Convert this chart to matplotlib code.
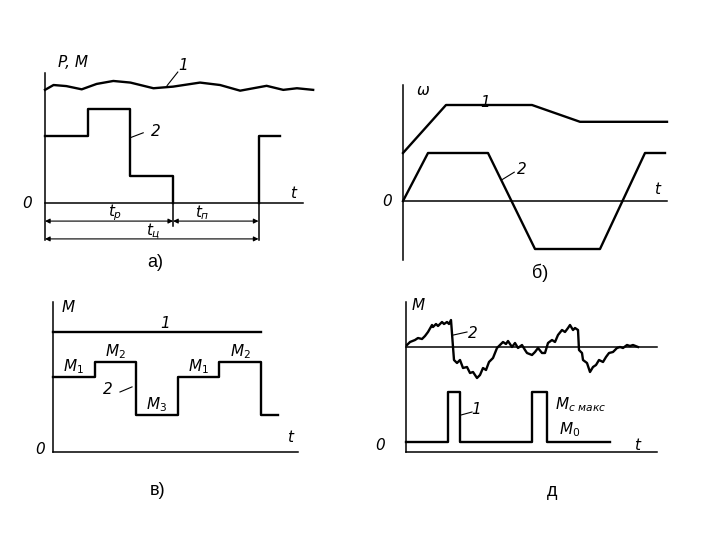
import matplotlib.pyplot as plt

# ---- panel a): P, M over one cycle
a_wave_t = [0, 0.2, 0.5, 0.86, 1.21, 1.6, 2.0, 2.54, 3.0, 3.63, 4.1, 4.57, 5.19, 5.58, 5.9, 6.28]
a_wave_v = [4.19, 4.37, 4.33, 4.21, 4.41, 4.52, 4.46, 4.25, 4.31, 4.46, 4.37, 4.16, 4.34, 4.19, 4.25, 4.19]
a_step_t = [0, 1, 2, 3]
a_step_v = [2.5, 3.5, 1, 0]
a_tail_t = [5, 5, 5.5]
a_tail_v = [0, 2.5, 2.5]
a_work = 3
a_cycle = 5

# ---- panel б): speed
b_w1_t = [0, 1.72, 5.16, 7.08, 10.56]
b_w1_v = [1, 2, 2, 1.65, 1.65]
b_w2_t = [0, 1.0, 3.4, 5.28, 7.88, 9.68, 10.48]
b_w2_v = [0, 1, 1, -1, -1, 1, 1]

# ---- panel в): stepped load
c_line1 = 4.0
c_step_t = [0, 1, 2, 3, 4, 5, 5.4]
c_step_v = [2.5, 3, 1.25, 2.5, 3, 1.25, 1.25]
c_labels = ['$M_1$', '$M_2$', '$M_3$', '$M_1$', '$M_2$']

# ---- panel д: pulses and noisy torque
d_pulse_t = [0, 4.2, 5.4, 12.6, 14.1, 20.4]
d_pulse_v = [1, 6, 1, 6, 1, 1]
d_ref = 10.5
d_noise_t = [0.1, 0.4, 0.9, 1.2, 1.6, 1.9, 2.2, 2.6, 2.7, 3.0, 3.2, 3.6, 3.8, 4.1, 4.3, 4.5,
             4.7, 4.8, 5.1, 5.4, 5.7, 6.1, 6.4, 6.7, 7.1, 7.4, 7.7, 8.0, 8.3, 8.7, 9.1, 9.4,
             9.7, 10.0, 10.2, 10.6, 10.9, 11.2, 11.6, 11.9, 12.1, 12.6, 12.9, 13.2, 13.6, 13.9,
             14.2, 14.6, 14.9, 15.2, 15.6, 15.9, 16.2, 16.4, 16.7, 16.9, 17.2, 17.3, 17.6, 17.7,
             18.1, 18.4, 18.7, 19.0, 19.3, 19.7, 20.0, 20.3, 20.7, 21.1, 21.4, 21.7, 22.1, 22.4,
             22.7, 23.2]
d_noise_v = [10.7, 11.0, 11.2, 11.4, 11.3, 11.6, 12.0, 12.7, 12.5, 12.8, 12.6, 13.0, 12.8, 13.0, 12.8, 13.2,
             10.5, 9.2, 8.9, 9.2, 8.4, 8.5, 7.9, 8.0, 7.4, 7.7, 8.4, 8.2, 9.0, 9.4, 10.4, 10.7,
             11.0, 10.8, 11.1, 10.5, 10.9, 10.4, 10.7, 10.2, 9.9, 9.7, 10.0, 10.4, 9.9, 9.9,
             10.9, 11.2, 11.0, 11.7, 12.2, 12.0, 12.4, 12.7, 12.2, 12.4, 12.2, 10.2, 9.9, 9.2,
             8.9, 8.0, 8.5, 8.7, 9.2, 9.0, 9.5, 9.9, 10.0, 10.4, 10.5, 10.4, 10.7, 10.6,
             10.7, 10.5]

W, H = 720, 540
fig = plt.figure(figsize=(7.2, 5.4), dpi=100)

def panel(box, origin, scale):
    l, t, r, b = box
    x0, y0 = origin
    sx, sy = scale
    ax = fig.add_axes([l / W, 1 - b / H, (r - l) / W, (b - t) / H])
    ax.set_xlim((l - x0) / sx, (r - x0) / sx)
    ax.set_ylim((y0 - b) / sy, (y0 - t) / sy)
    ax.axis('off')
    return ax

lw_ax = 1.1
lw_c = 1.7
it = dict(fontsize=11, style='italic', color='black', ha='center', va='center')
cap = dict(fontsize=13, family='Liberation Sans', ha='center', va='center')

# a)
ax = panel((15, 50, 320, 275), (45, 203), (42.7, 27))
ax.plot([0, 0], [-1.37, 4.8], 'k', lw=lw_ax)
ax.plot([0, 6.05], [0, 0], 'k', lw=lw_ax)
ax.plot(a_wave_t, a_wave_v, 'k', lw=lw_c)
ax.step(a_step_t, a_step_v, where='post', color='k', lw=lw_c)
ax.plot(a_tail_t, a_tail_v, 'k', lw=lw_c)
ax.plot([a_work, a_work], [0, -0.85], 'k', lw=lw_ax)
ax.plot([a_cycle, a_cycle], [0, -1.37], 'k', lw=lw_ax)
arr = dict(arrowstyle='<|-|>', color='k', lw=0.8, mutation_scale=7, shrinkA=0, shrinkB=0)
ax.annotate('', xy=(0, -0.67), xytext=(a_work, -0.67), arrowprops=arr)
ax.annotate('', xy=(a_work, -0.67), xytext=(a_cycle, -0.67), arrowprops=arr)
ax.annotate('', xy=(0, -1.33), xytext=(a_cycle, -1.33), arrowprops=arr)
ax.text(1.64, -0.37, r'$t_{р}$', **it)
ax.text(3.68, -0.37, r'$t_{п}$', **it)
ax.text(2.53, -1.07, r'$t_{ц}$', **it)
ax.text(0.66, 5.19, 'P, M', **it)
ax.text(3.23, 5.1, '1', **it)
ax.plot([3.11, 2.86], [4.85, 4.35], 'k', lw=0.8)
ax.text(2.6, 2.63, '2', **it)
ax.plot([2.3, 2.0], [2.6, 2.42], 'k', lw=0.8)
ax.text(-0.42, 0, '0', **it)
ax.text(5.8, 0.37, 't', **it)
ax.text(2.58, -2.19, 'а)', **cap)

# б)
ax = panel((370, 70, 690, 290), (403, 201), (25, 48))
ax.plot([0, 0], [-1.23, 2.42], 'k', lw=lw_ax)
ax.plot([0, 10.56], [0, 0], 'k', lw=lw_ax)
ax.plot(b_w1_t, b_w1_v, 'k', lw=lw_c)
ax.plot(b_w2_t, b_w2_v, 'k', lw=lw_c)
ax.text(0.8, 2.31, 'ω', **it)
ax.text(3.28, 2.06, '1', **it)
ax.text(4.76, 0.65, '2', **it)
ax.plot([4.45, 3.98], [0.6, 0.45], 'k', lw=0.8)
ax.text(-0.64, 0, '0', **it)
ax.text(10.16, 0.23, 't', **it)
ax.text(5.48, -1.5, 'б)', **cap)

# в)
ax = panel((15, 290, 320, 510), (53, 452), (41.6, 30))
ax.plot([0, 0], [0, 5], 'k', lw=lw_ax)
ax.plot([0, 5.9], [0, 0], 'k', lw=lw_ax)
ax.plot([0, 5], [c_line1, c_line1], 'k', lw=lw_c)
ax.step(c_step_t, c_step_v, where='post', color='k', lw=lw_c)
for i, lab in enumerate(c_labels):
    ax.text(c_step_t[i] + 0.5, c_step_v[i] + 0.33, lab, **it)
ax.text(0.36, 4.83, 'M', **it)
ax.text(2.69, 4.3, '1', **it)
ax.text(1.32, 2.07, '2', **it)
ax.plot([1.61, 1.9], [2.0, 2.17], 'k', lw=0.8)
ax.text(-0.31, 0.07, '0', **it)
ax.text(5.7, 0.47, 't', **it)
ax.text(2.52, -1.27, 'в)', **cap)

# д
ax = panel((370, 290, 690, 510), (406, 452), (10, 10))
ax.plot([0, 0], [0, 15], 'k', lw=lw_ax)
ax.plot([0, 25.1], [0, 0], 'k', lw=lw_ax)
ax.plot([0, 25.1], [d_ref, d_ref], 'k', lw=lw_ax)
ax.step(d_pulse_t, d_pulse_v, where='post', color='k', lw=lw_c)
ax.plot(d_noise_t, d_noise_v, 'k', lw=lw_c)
ax.text(1.2, 14.7, 'M', **it)
ax.text(6.7, 11.9, '2', **it)
ax.plot([6.1, 4.75], [12.0, 11.7], 'k', lw=0.8)
ax.text(7.0, 4.3, '1', **it)
ax.plot([6.6, 5.5], [4.0, 3.7], 'k', lw=0.8)
ax.text(14.9, 4.7, r'$M_{с\ макс}$', fontsize=11, style='italic', ha='left', va='center')
ax.text(16.4, 2.2, r'$M_0$', **it)
ax.text(-2.6, 0.7, '0', **it)
ax.text(23.1, 0.7, 't', **it)
ax.text(14.6, -4.0, 'д', **cap)

fig.savefig('out.png', dpi=100, facecolor='white')
